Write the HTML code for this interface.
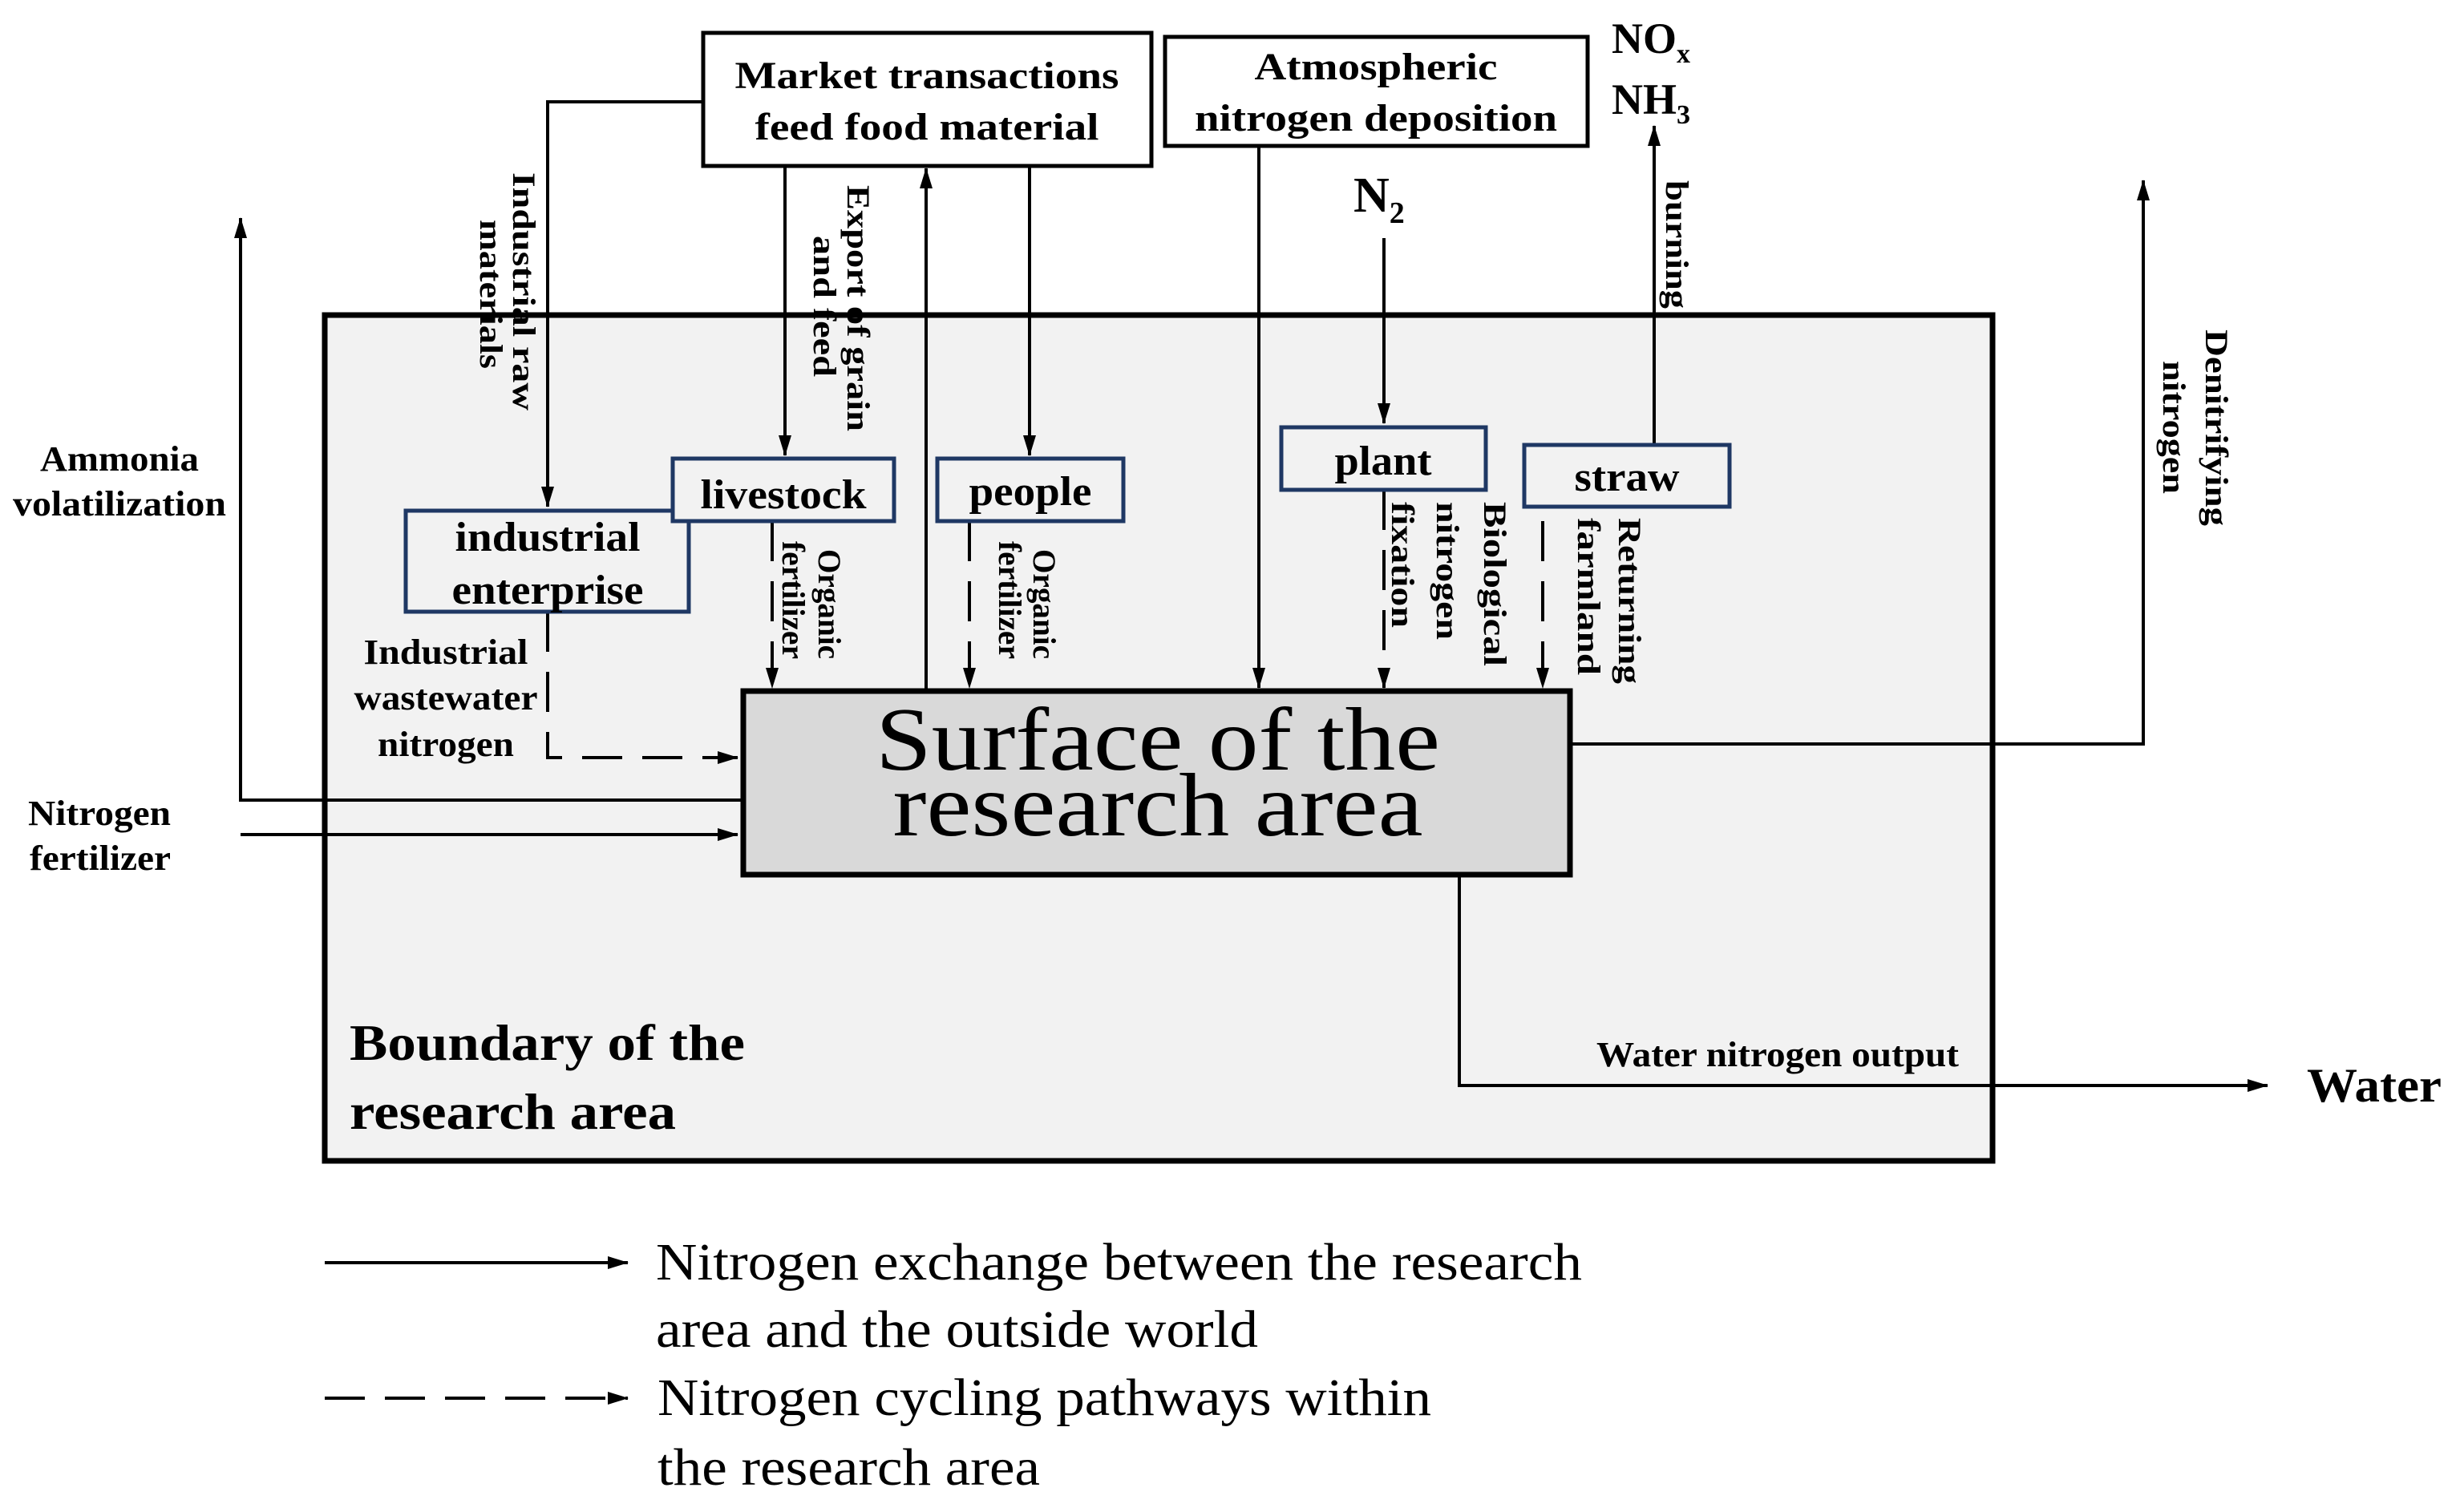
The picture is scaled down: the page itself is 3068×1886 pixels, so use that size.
<!DOCTYPE html>
<html><head><meta charset="utf-8"><style>
html,body{margin:0;padding:0;background:#fff}
svg{display:block}
text{font-family:"Liberation Serif",serif;fill:#000}
.b{font-weight:bold}
</style></head><body>
<svg width="3068" height="1886" viewBox="0 0 3068 1886" xmlns="http://www.w3.org/2000/svg">
<defs>
<marker id="m" markerWidth="26" markerHeight="16" refX="25" refY="8" orient="auto" markerUnits="userSpaceOnUse"><path d="M0,0 L26,8 L0,16 z" fill="#000"/></marker>
</defs>
<rect x="405" y="393" width="2080" height="1055" fill="#f2f2f2" stroke="#000" stroke-width="7"/>
<rect x="877" y="41" width="559" height="166" fill="#fff" stroke="#000" stroke-width="5"/>
<text class="b" x="1156" y="110" font-size="48" text-anchor="middle" textLength="479" lengthAdjust="spacingAndGlyphs">Market transactions</text>
<text class="b" x="1156" y="174" font-size="48" text-anchor="middle" textLength="429" lengthAdjust="spacingAndGlyphs">feed food material</text>
<rect x="1453" y="46" width="527" height="136" fill="#fff" stroke="#000" stroke-width="5"/>
<text class="b" x="1716" y="99" font-size="48" text-anchor="middle" textLength="303" lengthAdjust="spacingAndGlyphs">Atmospheric</text>
<text class="b" x="1716" y="163" font-size="48" text-anchor="middle" textLength="452" lengthAdjust="spacingAndGlyphs">nitrogen deposition</text>
<text class="b" x="2010" y="66" font-size="54">NO<tspan font-size="34" dy="12">x</tspan></text>
<text class="b" x="2010" y="142" font-size="54">NH<tspan font-size="34" dy="12">3</tspan></text>
<text class="b" x="1688" y="264" font-size="62">N<tspan font-size="38" dy="14">2</tspan></text>
<g stroke="#000" stroke-width="4" fill="none">
<path d="M877,127 H683 V632" marker-end="url(#m)"/>
<path d="M979,207 V568" marker-end="url(#m)"/>
<path d="M1155,861 V210" marker-end="url(#m)"/>
<path d="M1284,207 V568" marker-end="url(#m)"/>
<path d="M1570,182 V858" marker-end="url(#m)"/>
<path d="M1726,297 V528" marker-end="url(#m)"/>
<path d="M2063,554 V157" marker-end="url(#m)"/>
<path d="M1959,928 H2673 V225" marker-end="url(#m)"/>
<path d="M926,998 H300 V272" marker-end="url(#m)"/>
<path d="M300,1041 H920" marker-end="url(#m)"/>
<path d="M1820,1092 V1354 H2828" marker-end="url(#m)"/>
</g>
<g stroke="#000" stroke-width="4" fill="none" stroke-dasharray="50,25">
<path d="M683,763 V945 H920" marker-end="url(#m)"/>
<path d="M963,650 V858" marker-end="url(#m)"/>
<path d="M1209,650 V858" marker-end="url(#m)"/>
<path d="M1726,611 V858" marker-end="url(#m)"/>
<path d="M1924,650 V858" marker-end="url(#m)"/>
</g>
<g fill="#f2f2f2" stroke="#1f3864" stroke-width="5">
<rect x="506" y="637" width="353" height="126"/>
<rect x="839" y="572" width="276" height="78"/>
<rect x="1169" y="572" width="232" height="78"/>
<rect x="1598" y="533" width="255" height="78"/>
<rect x="1901" y="555" width="256" height="77"/>
</g>
<g class="b" font-size="52" text-anchor="middle">
<text x="683" y="687" textLength="231" lengthAdjust="spacingAndGlyphs">industrial</text>
<text x="683" y="753" textLength="239" lengthAdjust="spacingAndGlyphs">enterprise</text>
<text x="977" y="634" textLength="207" lengthAdjust="spacingAndGlyphs">livestock</text>
<text x="1285" y="630" textLength="153" lengthAdjust="spacingAndGlyphs">people</text>
<text x="1725" y="592" textLength="121" lengthAdjust="spacingAndGlyphs">plant</text>
<text x="2029" y="612" textLength="131" lengthAdjust="spacingAndGlyphs">straw</text>
</g>
<rect x="927" y="862" width="1031" height="229" fill="#d9d9d9" stroke="#000" stroke-width="7"/>
<text x="1444" y="960" font-size="112" text-anchor="middle" textLength="704" lengthAdjust="spacingAndGlyphs">Surface of the</text>
<text x="1444" y="1042" font-size="112" text-anchor="middle" textLength="661" lengthAdjust="spacingAndGlyphs">research area</text>
<g class="b" font-size="44" text-anchor="middle">
<text x="149" y="587" textLength="198" lengthAdjust="spacingAndGlyphs">Ammonia</text>
<text x="149" y="643" textLength="266" lengthAdjust="spacingAndGlyphs">volatilization</text>
<text x="556" y="828" textLength="205" lengthAdjust="spacingAndGlyphs">Industrial</text>
<text x="556" y="885" textLength="229" lengthAdjust="spacingAndGlyphs">wastewater</text>
<text x="556" y="943" textLength="170" lengthAdjust="spacingAndGlyphs">nitrogen</text>
</g>
<text class="b" x="35" y="1029" font-size="44" textLength="178" lengthAdjust="spacingAndGlyphs">Nitrogen</text>
<text class="b" x="37" y="1085" font-size="44" textLength="176" lengthAdjust="spacingAndGlyphs">fertilizer</text>
<text class="b" x="436" y="1322" font-size="64" textLength="493" lengthAdjust="spacingAndGlyphs">Boundary of the</text>
<text class="b" x="436" y="1408" font-size="64" textLength="407" lengthAdjust="spacingAndGlyphs">research area</text>
<text class="b" x="2217" y="1330" font-size="44" text-anchor="middle" textLength="452" lengthAdjust="spacingAndGlyphs">Water nitrogen output</text>
<text class="b" x="2877" y="1374" font-size="60" textLength="168" lengthAdjust="spacingAndGlyphs">Water</text>
<g class="b" font-size="40">
<text transform="translate(640,215) rotate(90)" textLength="297" lengthAdjust="spacingAndGlyphs">Industrial raw</text>
<text transform="translate(599,274) rotate(90)" textLength="186" lengthAdjust="spacingAndGlyphs">materials</text>
<text transform="translate(1057,231) rotate(90)" textLength="307" lengthAdjust="spacingAndGlyphs">Export of grain</text>
<text transform="translate(1015,294) rotate(90)" textLength="176" lengthAdjust="spacingAndGlyphs">and feed</text>
<text transform="translate(2078,225) rotate(90)" textLength="160" lengthAdjust="spacingAndGlyphs">burning</text>
<text transform="translate(2751,411) rotate(90)" textLength="245" lengthAdjust="spacingAndGlyphs">Denitrifying</text>
<text transform="translate(2698,450) rotate(90)" textLength="166" lengthAdjust="spacingAndGlyphs">nitrogen</text>
<text transform="translate(1021,685) rotate(90)" textLength="137" lengthAdjust="spacingAndGlyphs">Organic</text>
<text transform="translate(976,675) rotate(90)" textLength="147" lengthAdjust="spacingAndGlyphs">fertilizer</text>
<text transform="translate(1289,685) rotate(90)" textLength="137" lengthAdjust="spacingAndGlyphs">Organic</text>
<text transform="translate(1246,675) rotate(90)" textLength="147" lengthAdjust="spacingAndGlyphs">fertilizer</text>
<text transform="translate(1851,626) rotate(90)" textLength="205" lengthAdjust="spacingAndGlyphs">Biological</text>
<text transform="translate(1792,626) rotate(90)" textLength="172" lengthAdjust="spacingAndGlyphs">nitrogen</text>
<text transform="translate(1736,626) rotate(90)" textLength="157" lengthAdjust="spacingAndGlyphs">fixation</text>
<text transform="translate(2019,646) rotate(90)" textLength="207" lengthAdjust="spacingAndGlyphs">Returning</text>
<text transform="translate(1968,646) rotate(90)" textLength="196" lengthAdjust="spacingAndGlyphs">farmland</text>
</g>
<path d="M405,1575 H783" stroke="#000" stroke-width="4" marker-end="url(#m)"/>
<path d="M405,1744 H783" stroke="#000" stroke-width="4" stroke-dasharray="50,25" marker-end="url(#m)"/>
<g font-size="66">
<text x="818" y="1596" textLength="1155" lengthAdjust="spacingAndGlyphs">Nitrogen exchange between the research</text>
<text x="818" y="1680" textLength="751" lengthAdjust="spacingAndGlyphs">area and the outside world</text>
<text x="820" y="1765" textLength="965" lengthAdjust="spacingAndGlyphs">Nitrogen cycling pathways within</text>
<text x="820" y="1852" textLength="477" lengthAdjust="spacingAndGlyphs">the research area</text>
</g>
</svg>
</body></html>
